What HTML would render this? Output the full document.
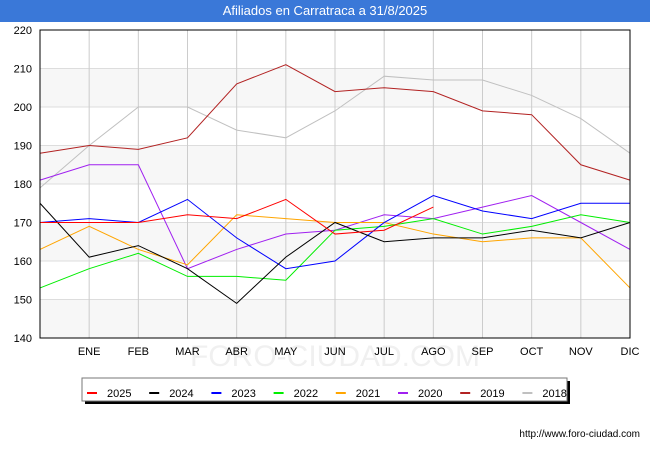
<!DOCTYPE html>
<html><head><meta charset="utf-8"><style>
body{margin:0;width:650px;height:450px;background:#fff;font-family:"Liberation Sans",sans-serif;overflow:hidden}
#title{position:absolute;left:0;top:0;width:650px;height:22px;background:#3a78d8;color:#fff;font-size:13px;text-align:center;line-height:22px}
svg{position:absolute;left:0;top:0}
</style></head><body>
<div id="title">Afiliados en Carratraca a 31/8/2025</div>
<svg id="c" width="650" height="450"></svg>
<script>
const months=["","ENE","FEB","MAR","ABR","MAY","JUN","JUL","AGO","SEP","OCT","NOV","DIC"];
const yTicks=[140,150,160,170,180,190,200,210,220];
const seriesNames=["2025","2024","2023","2022","2021","2020","2019","2018"];
const seriesColors=["#ff0000","#000000","#0000ff","#00ee00","#ffa500","#a020f0","#b22222","#c0c0c0"];
const s2025=[170,170,170,172,171,176,167,168,174];
const s2024=[175,161,164,158,149,161,170,165,166,166,168,166,170];
const s2023=[170,171,170,176,166,158,160,170,177,173,171,175,175];
const s2022=[153,158,162,156,156,155,168,169,171,167,169,172,170];
const s2021=[163,169,163,159,172,171,170,170,167,165,166,166,153];
const s2020=[181,185,185,158,163,167,168,172,171,174,177,170,163];
const s2019=[188,190,189,192,206,211,204,205,204,199,198,185,181];
const s2018=[179,190,200,200,194,192,199,208,207,207,203,197,188];
const allSeries=[s2025,s2024,s2023,s2022,s2021,s2020,s2019,s2018];
const L=40,R=630,T=30,B=338,ymin=140,ymax=220;
const X=i=>L+i*(R-L)/12, Y=v=>B-(v-ymin)/(ymax-ymin)*(B-T);
const svg=document.getElementById('c'),NS="http://www.w3.org/2000/svg";
function mk(t,a,p){const e=document.createElementNS(NS,t);for(const k in a)e.setAttribute(k,a[k]);(p||svg).appendChild(e);return e;}
for(let i=0;i<yTicks.length-1;i++){if(i%2==0){const r=mk('rect',{x:L,y:Y(yTicks[i+1]),width:R-L,height:Y(yTicks[i])-Y(yTicks[i+1]),fill:'#f7f7f7'});}}
const wm=mk('text',{x:335,y:366,'text-anchor':'middle','font-size':'30',fill:'#f0f0f0'});wm.textContent="FORO-CIUDAD.COM";
yTicks.forEach(v=>{const g=mk('line',{x1:L,x2:R,y1:Y(v),y2:Y(v),stroke:'#ddd'});
const t=mk('text',{x:L-8,y:Y(v)+4,'text-anchor':'end','font-size':'11',fill:'#000'});t.textContent=v;});
months.forEach((m,i)=>{if(i>0){const g=mk('line',{x1:X(i),x2:X(i),y1:T,y2:B,stroke:'#ccc'});}
const t=mk('text',{x:X(i),y:B+17,'text-anchor':'middle','font-size':'11',fill:'#000'});t.textContent=m;});
for(let s=allSeries.length-1;s>=0;s--){const d=allSeries[s].map((v,i)=>X(i)+','+Y(v)).join(' ');
const p=mk('polyline',{points:d,fill:'none',stroke:seriesColors[s],'stroke-width':1});}
const fr=mk('rect',{x:L,y:T,width:R-L,height:B-T,fill:'none',stroke:'#000'});
const sh=mk('rect',{x:85,y:381,width:485,height:23,fill:'#000'});
const lg=mk('rect',{x:82,y:378,width:485,height:23,fill:'#fff',stroke:'#777'});
seriesNames.forEach((n,i)=>{const x=87+i*62.2;const l=mk('line',{x1:x,x2:x+10,y1:393,y2:393,stroke:seriesColors[i],'stroke-width':2});
const t=mk('text',{x:x+20,y:397,'font-size':'11',fill:'#000'});t.textContent=n;});
const u=mk('text',{x:640,y:437,'text-anchor':'end','font-size':'10',fill:'#000'});u.textContent="http://www.foro-ciudad.com";
</script>
</body></html>
